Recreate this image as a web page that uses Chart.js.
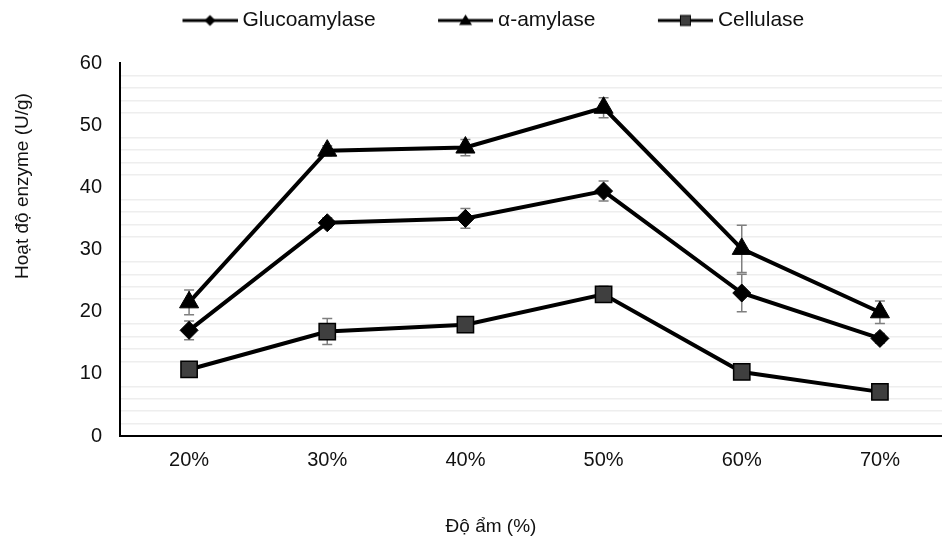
<!DOCTYPE html>
<html>
<head>
<meta charset="utf-8">
<script src="https://cdn.jsdelivr.net/npm/chart.js@4.4.1/dist/chart.umd.min.js"></script>
<style>
    html, body { margin: 0; padding: 0; background: #fff; overflow: hidden; }
    /* a little wider than the window: the plot runs off the right edge as in the original */
    #wrap { width: 962px; height: 538px; position: relative; }
</style>
</head>
<body>
<div id="wrap"><canvas id="my-enzyme"></canvas></div>
<script>
/*
    Data
*/
const moisture_labels = ['20%', '30%', '40%', '50%', '60%', '70%'];

const gluco_data = [17.0, 34.3, 35.0, 39.4, 23.0, 15.7];
const gluco_err = [1.5, 0.8, 1.6, 1.6, 3.0, 0.8];

const amylase_data = [21.5, 45.9, 46.4, 52.8, 30.1, 19.9];
const amylase_err = [2.0, 0.8, 1.3, 1.6, 3.8, 1.8];

const cellu_data = [10.7, 16.8, 17.9, 22.8, 10.3, 7.1];
const cellu_err = [0.5, 2.1, 0.5, 1.3, 0.5, 0.5];

const y_title = 'Hoạt độ enzyme (U/g)';
const x_title = 'Độ ẩm (%)';

Chart.defaults.font.family = "'Liberation Sans', Arial, sans-serif";
Chart.defaults.font.size = 20;
Chart.defaults.color = '#111';

/*
    Legend icons: line with a small marker (blank on the left keeps the items apart)
*/
function legendIcon(marker) {
    const c = document.createElement('canvas');
    c.width = 113;
    c.height = 14;
    const g = c.getContext('2d');
    g.strokeStyle = '#000';
    g.lineWidth = 3;
    g.beginPath();
    g.moveTo(58, 7);
    g.lineTo(113, 7);
    g.stroke();
    const cx = 85.5, cy = 7;
    g.fillStyle = '#000';
    g.beginPath();
    if (marker === 'diamond') {
        g.moveTo(cx - 5.5, cy); g.lineTo(cx, cy - 5.5); g.lineTo(cx + 5.5, cy); g.lineTo(cx, cy + 5.5);
        g.closePath(); g.fill();
    } else if (marker === 'triangle') {
        g.moveTo(cx, cy - 6); g.lineTo(cx + 6.5, cy + 4.5); g.lineTo(cx - 6.5, cy + 4.5);
        g.closePath(); g.fill();
    } else {
        g.fillStyle = '#3f3f3f';
        g.fillRect(cx - 5, cy - 5, 10, 10);
        g.lineWidth = 1;
        g.strokeRect(cx - 5, cy - 5, 10, 10);
    }
    return c;
}
const legend_icons = [legendIcon('diamond'), legendIcon('triangle'), legendIcon('square')];

/*
    Error bars, drawn under the lines through the chart's own scales
*/
const errorBars = {
    id: 'errorBars',
    beforeDatasetsDraw(chart) {
        const {ctx, scales: {x, y}} = chart;
        ctx.save();
        ctx.strokeStyle = '#7f7f7f';
        ctx.lineWidth = 1.5;
        chart.data.datasets.forEach(ds => {
            ds.data.forEach((v, j) => {
                const e = ds.errors[j];
                const px = x.getPixelForValue(j);
                const top = y.getPixelForValue(v + e);
                const bot = y.getPixelForValue(v - e);
                ctx.beginPath();
                ctx.moveTo(px, top); ctx.lineTo(px, bot);
                ctx.moveTo(px - 5, top); ctx.lineTo(px + 5, top);
                ctx.moveTo(px - 5, bot); ctx.lineTo(px + 5, bot);
                ctx.stroke();
            });
        });
        ctx.restore();
    }
};

/*
    Axis titles (placed like the original, not centred on the axes)
*/
const axisTitles = {
    id: 'axisTitles',
    afterDraw(chart) {
        const {ctx, chartArea} = chart;
        ctx.save();
        ctx.fillStyle = '#111';
        ctx.font = "19px 'Liberation Sans', Arial, sans-serif";
        ctx.textAlign = 'center';
        ctx.textBaseline = 'middle';
        ctx.fillText(x_title, chartArea.left + 371, chartArea.bottom + 91);
        ctx.translate(chartArea.left - 97, chartArea.top + 123);
        ctx.rotate(-Math.PI / 2);
        ctx.fillText(y_title, 0, 0);
        ctx.restore();
    }
};

// extra room between legend and plot
const legendGap = {
    id: 'legendGap',
    beforeInit(chart) {
        const fit = chart.legend.fit;
        chart.legend.fit = function () {
            fit.call(this);
            this.height += 22;
        };
    }
};

const ctx = document.getElementById('my-enzyme').getContext('2d');
const myChart = new Chart(ctx, {
    type: 'line',
    data: {
        labels: moisture_labels,
        datasets: [{
            label: 'Glucoamylase',
            data: gluco_data,
            errors: gluco_err,
            borderColor: '#000',
            borderWidth: 4,
            pointStyle: 'rectRot',
            pointRadius: 9,
            pointBackgroundColor: '#000',
            pointBorderColor: '#000',
            pointBorderWidth: 1
        }, {
            label: 'α-amylase',
            data: amylase_data,
            errors: amylase_err,
            borderColor: '#000',
            borderWidth: 4,
            pointStyle: 'triangle',
            pointRadius: 11,
            pointBackgroundColor: '#000',
            pointBorderColor: '#000',
            pointBorderWidth: 1
        }, {
            label: 'Cellulase',
            data: cellu_data,
            errors: cellu_err,
            borderColor: '#000',
            borderWidth: 4,
            pointStyle: 'rect',
            pointRadius: 11.5,
            pointBackgroundColor: '#3f3f3f',
            pointBorderColor: '#000',
            pointBorderWidth: 1.5
        }]
    },
    options: {
        animation: false,
        responsive: true,
        maintainAspectRatio: false,
        plugins: {
            tooltip: {enabled: false},
            legend: {
                position: 'top',
                align: 'start',
                fullSize: false,
                labels: {
                    usePointStyle: true,
                    pointStyleWidth: 102,
                    padding: 10,
                    color: '#111',
                    font: {size: 21},
                    generateLabels: function (chart) {
                        const items = Chart.defaults.plugins.legend.labels.generateLabels(chart);
                        items.forEach((it, i) => { it.pointStyle = legend_icons[i]; });
                        return items;
                    }
                }
            }
        },
        scales: {
            x: {
                offset: true,
                grid: {display: false, drawTicks: false},
                border: {display: true, color: '#000', width: 2},
                ticks: {padding: 12, color: '#111'},
                afterFit: function (scale) { scale.height = 102; }
            },
            y: {
                min: 0,
                max: 60,
                ticks: {
                    stepSize: 2,
                    padding: 18,
                    color: '#111',
                    autoSkip: false,
                    callback: function (value) {
                        // label only the tens
                        return value % 10 === 0 ? value : '';
                    }
                },
                grid: {
                    drawTicks: false,
                    lineWidth: 1.5,
                    color: function (c) {
                        return c.tick && c.tick.value % 10 === 0 ? 'rgba(0,0,0,0)' : '#eeeeee';
                    }
                },
                border: {display: true, color: '#000', width: 2},
                afterFit: function (scale) { scale.width = 120; }
            }
        }
    },
    plugins: [errorBars, axisTitles, legendGap]
});
</script>
</body>
</html>
